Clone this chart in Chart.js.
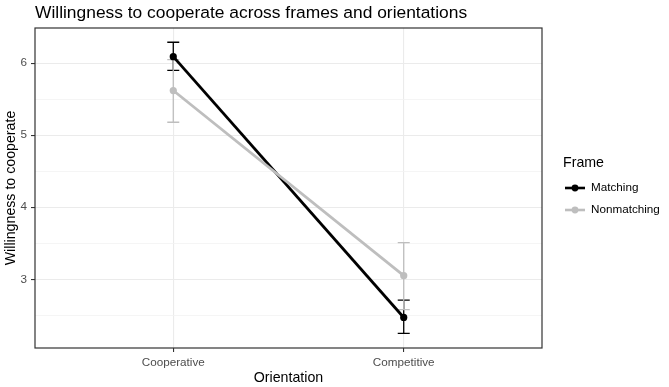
<!DOCTYPE html>
<html>
<head>
<meta charset="utf-8">
<script src="https://cdn.jsdelivr.net/npm/chart.js@4"></script>
<style>
  html, body { margin: 0; padding: 0; background: #fff; }
  #wrap { width: 669px; height: 387px; position: relative; }
</style>
</head>
<body>
<div id="wrap"><canvas id="chart"></canvas></div>
<script>
const categories = ["Cooperative", "Competitive"];
const frames = ["Matching", "Nonmatching"];

const matchingMean = [6.09, 2.47];
const matchingLow = [5.90, 2.25];
const matchingHigh = [6.29, 2.71];

const nonmatchingMean = [5.62, 3.05];
const nonmatchingLow = [5.18, 2.58];
const nonmatchingHigh = [6.05, 3.51];

const yMajorTicks = [3, 4, 5, 6];
const yMinorTicks = [2.5, 3.5, 4.5, 5.5];

const frameColors = ["#000000", "#bebebe"];
const FONT = "'Liberation Sans', Arial, sans-serif";

function toPoints(values) {
    return categories.map((c, i) => ({ x: i + 1, y: values[i] }));
}

const errorBars = [
    { low: matchingLow, high: matchingHigh, color: frameColors[0] },
    { low: nonmatchingLow, high: nonmatchingHigh, color: frameColors[1] }
];

// error bars go under the lines, like geom_errorbar drawn first
const errorBarPlugin = {
    id: "errorBars",
    beforeDatasetsDraw(chart) {
        const ctx = chart.ctx;
        const xs = chart.scales.x;
        const ys = chart.scales.y;
        ctx.save();
        ctx.lineWidth = 1.3;
        errorBars.forEach(bar => {
            ctx.strokeStyle = bar.color;
            categories.forEach((c, i) => {
                const px = xs.getPixelForValue(i + 1);
                const top = ys.getPixelForValue(bar.high[i]);
                const bottom = ys.getPixelForValue(bar.low[i]);
                ctx.beginPath();
                ctx.moveTo(px, top);
                ctx.lineTo(px, bottom);
                ctx.moveTo(px - 6, top);
                ctx.lineTo(px + 6, top);
                ctx.moveTo(px - 6, bottom);
                ctx.lineTo(px + 6, bottom);
                ctx.stroke();
            });
        });
        ctx.restore();
    }
};

// panel border, plot title and the legend on the right
const decorPlugin = {
    id: "decor",
    afterDraw(chart) {
        const ctx = chart.ctx;
        const area = chart.chartArea;
        ctx.save();
        ctx.strokeStyle = "#333333";
        ctx.lineWidth = 1.2;
        ctx.strokeRect(area.left, area.top, area.right - area.left, area.bottom - area.top);

        ctx.fillStyle = "#000";
        ctx.textBaseline = "alphabetic";
        ctx.textAlign = "left";
        ctx.font = "17.4px " + FONT;
        ctx.fillText("Willingness to cooperate across frames and orientations", 35, 18);

        ctx.font = "14.2px " + FONT;
        ctx.textBaseline = "middle";
        ctx.fillText("Frame", 563, 163);

        ctx.font = "11.7px " + FONT;
        frames.forEach((name, i) => {
            const y = 188 + i * 22;
            ctx.strokeStyle = frameColors[i];
            ctx.lineWidth = 2.6;
            ctx.beginPath();
            ctx.moveTo(565, y);
            ctx.lineTo(585, y);
            ctx.stroke();
            ctx.fillStyle = frameColors[i];
            ctx.beginPath();
            ctx.arc(575, y, 3.4, 0, Math.PI * 2);
            ctx.fill();
            ctx.fillStyle = "#000";
            ctx.fillText(name, 591, y);
        });
        ctx.restore();
    }
};

const ctx = document.getElementById("chart").getContext("2d");

new Chart(ctx, {
    type: "line",
    data: {
        datasets: [
            {
                label: frames[0],
                data: toPoints(matchingMean),
                borderColor: frameColors[0],
                backgroundColor: frameColors[0],
                borderWidth: 2.8,
                pointRadius: 3.6,
                pointBorderWidth: 0,
                order: 1
            },
            {
                label: frames[1],
                data: toPoints(nonmatchingMean),
                borderColor: frameColors[1],
                backgroundColor: frameColors[1],
                borderWidth: 2.8,
                pointRadius: 3.6,
                pointBorderWidth: 0,
                order: 0
            }
        ]
    },
    options: {
        responsive: true,
        maintainAspectRatio: false,
        animation: false,
        layout: { padding: { left: 0, top: 28, right: 127, bottom: 0 } },
        plugins: {
            legend: { display: false },
            tooltip: { enabled: false }
        },
        scales: {
            x: {
                type: "linear",
                min: 0.4,
                max: 2.6,
                afterBuildTicks: scale => {
                    scale.ticks = categories.map((c, i) => ({ value: i + 1 }));
                },
                afterFit: scale => { scale.height = 39; },
                ticks: {
                    callback: value => categories[value - 1],
                    color: "#4d4d4d",
                    font: { family: FONT, size: 11.7 },
                    padding: 4,
                    maxRotation: 0,
                    autoSkip: false
                },
                grid: {
                    color: "#ebebeb",
                    lineWidth: 1.1,
                    tickColor: "#333333",
                    tickLength: 4
                },
                border: { display: false },
                title: {
                    display: true,
                    text: "Orientation",
                    color: "#000",
                    font: { family: FONT, size: 14.2 },
                    padding: { top: 0, bottom: 0 }
                }
            },
            y: {
                type: "linear",
                min: 2.046,
                max: 6.488,
                afterBuildTicks: scale => {
                    scale.ticks = yMinorTicks.concat(yMajorTicks)
                        .sort((a, b) => a - b)
                        .map(v => ({ value: v }));
                },
                afterFit: scale => { scale.width = 35; },
                ticks: {
                    callback: value => yMajorTicks.includes(value) ? String(value) : "",
                    color: "#4d4d4d",
                    font: { family: FONT, size: 11.7 },
                    padding: 4,
                    autoSkip: false
                },
                grid: {
                    color: c => yMajorTicks.includes(c.tick.value) ? "#ebebeb" : "#f2f2f2",
                    lineWidth: c => yMajorTicks.includes(c.tick.value) ? 1.1 : 0.8,
                    tickColor: c => yMajorTicks.includes(c.tick.value) ? "#333333" : "rgba(0,0,0,0)",
                    tickLength: 4
                },
                border: { display: false },
                title: {
                    display: true,
                    text: "Willingness to cooperate",
                    color: "#000",
                    font: { family: FONT, size: 14.2 },
                    padding: { top: 3, bottom: 0 }
                }
            }
        }
    },
    plugins: [errorBarPlugin, decorPlugin]
});
</script>
</body>
</html>
